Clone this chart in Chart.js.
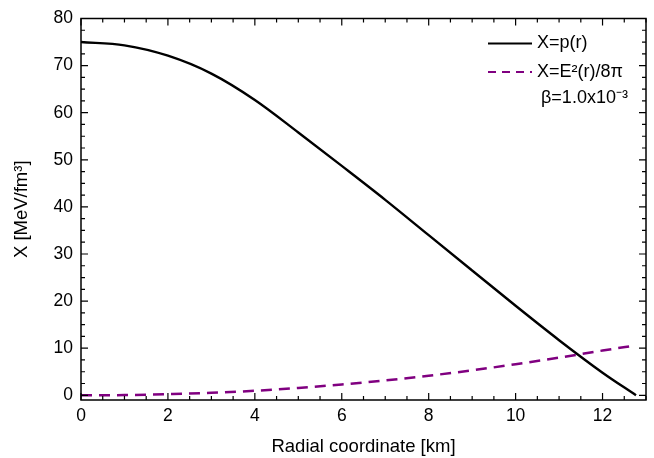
<!DOCTYPE html>
<html><head><meta charset="utf-8">
<script src="https://cdn.jsdelivr.net/npm/chart.js@4/dist/chart.umd.min.js"></script>
<style>html,body{margin:0;padding:0;background:#fff}#c{display:block}</style>
</head><body>
<canvas id="c" width="654" height="458"></canvas>
<script>
// Data
const radius      = [0, 1, 2, 3, 4, 5, 6, 7, 8, 9, 10, 11, 12, 12.77];
const pressure    = [75, 74.3, 72.1, 68.3, 62.7, 55.8, 48.7, 41.5, 34.0, 26.5, 19.0, 11.7, 4.8, 0];
const fieldEnergy = [0, 0.05, 0.25, 0.52, 0.95, 1.55, 2.3, 3.15, 4.15, 5.3, 6.6, 8.0, 9.5, 10.6];
const seriesNames = ['X=p(r)', 'X=E²(r)/8π'];
const betaNote = 'β=1.0x10⁻³';
const xMajorTicks = [0, 2, 4, 6, 8, 10, 12];
const yMajorTicks = [0, 10, 20, 30, 40, 50, 60, 70, 80];

const FONT = 'Liberation Sans, Arial, sans-serif';

const framePlugin = {
  id: 'frame',
  afterDatasetsDraw(chart) {
    const {ctx, chartArea: a, scales: {x, y}} = chart;
    ctx.save();
    ctx.strokeStyle = '#000';
    ctx.lineWidth = 1.5;
    ctx.strokeRect(a.left, a.top, a.right - a.left, a.bottom - a.top);
    ctx.lineWidth = 1.2;
    ctx.beginPath();
    for (let v = 0; v <= 13.0001; v += 0.5) {
      const px = x.getPixelForValue(v);
      const major = Math.abs(v / 2 - Math.round(v / 2)) < 1e-6;
      const L = major ? 7 : 4;
      ctx.moveTo(px, a.bottom); ctx.lineTo(px, a.bottom - L);
      ctx.moveTo(px, a.top); ctx.lineTo(px, a.top + L);
    }
    for (let v = 0; v <= 80.0001; v += 2.5) {
      const py = y.getPixelForValue(v);
      const major = Math.abs(v / 10 - Math.round(v / 10)) < 1e-6;
      const L = major ? 7 : 4;
      ctx.moveTo(a.left, py); ctx.lineTo(a.left + L, py);
      ctx.moveTo(a.right, py); ctx.lineTo(a.right - L, py);
    }
    ctx.stroke();

    // legend
    const ds = chart.data.datasets;
    const rows = [43.5, 72];
    ctx.font = '18px ' + FONT;
    ctx.textBaseline = 'middle';
    ctx.fillStyle = '#000';
    rows.forEach((ry, i) => {
      ctx.beginPath();
      ctx.strokeStyle = ds[i].borderColor;
      ctx.lineWidth = 2.2;
      ctx.setLineDash(i ? [8, 6] : []);
      ctx.moveTo(488, ry); ctx.lineTo(532, ry);
      ctx.stroke();
      ctx.setLineDash([]);
      ctx.fillText(ds[i].label, 537, ry);
    });
    ctx.fillText(betaNote, 541, 98);
    ctx.restore();
  }
};

new Chart(document.getElementById('c'), {
  type: 'line',
  data: {
    datasets: [
      {
        label: seriesNames[0],
        data: radius.map((r, i) => ({x: r, y: pressure[i]})),
        borderColor: '#000', borderWidth: 2.4, pointRadius: 0,
        cubicInterpolationMode: 'monotone', fill: false
      },
      {
        label: seriesNames[1],
        data: radius.map((r, i) => ({x: r, y: fieldEnergy[i]})),
        borderColor: '#800080', borderWidth: 2.5, borderDash: [11, 7], pointRadius: 0,
        cubicInterpolationMode: 'monotone', fill: false
      }
    ]
  },
  options: {
    responsive: false, animation: false,
    layout: {padding: {top: 17, right: 8, left: 0, bottom: 0}},
    plugins: {legend: {display: false}, tooltip: {enabled: false}},
    scales: {
      x: {
        type: 'linear', min: 0, max: 13,
        afterBuildTicks: s => { s.ticks = xMajorTicks.map(v => ({value: v})); },
        afterFit: s => { s.height = 58; },
        grid: {display: false, drawTicks: false}, border: {display: false},
        ticks: {color: '#000', font: {family: FONT, size: 17.5}, padding: 6, maxRotation: 0},
        title: {display: true, text: 'Radial coordinate [km]', color: '#000',
                font: {family: FONT, size: 18.5}, padding: {top: 4, bottom: 0}}
      },
      y: {
        type: 'linear', min: -1, max: 80,
        afterBuildTicks: s => { s.ticks = yMajorTicks.map(v => ({value: v})); },
        afterFit: s => { s.width = 81; },
        grid: {display: false, drawTicks: false}, border: {display: false},
        ticks: {color: '#000', font: {family: FONT, size: 17.5}, padding: 8},
        title: {display: true, text: 'X [MeV/fm³]', color: '#000',
                font: {family: FONT, size: 18.5}, padding: {top: 11, bottom: 0}}
      }
    }
  },
  plugins: [framePlugin]
});
</script>
</body></html>
